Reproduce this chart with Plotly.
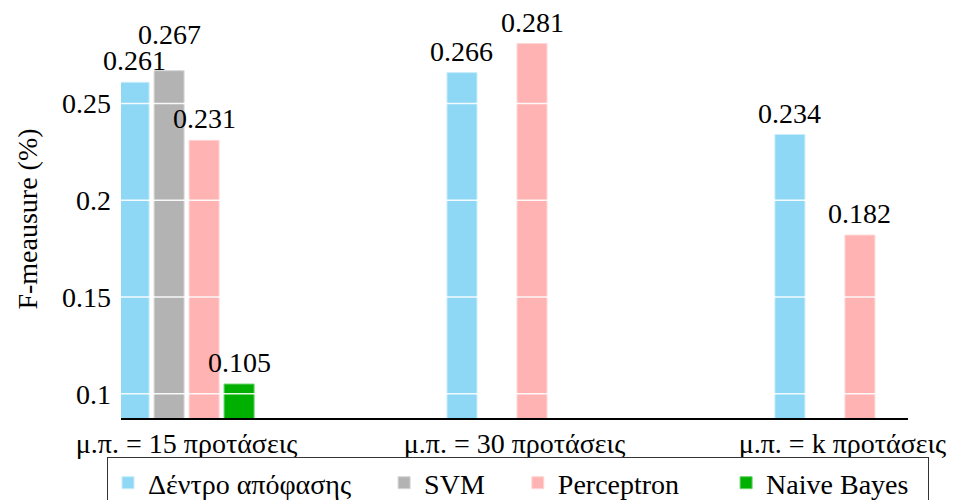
import plotly.graph_objects as go

categories = ["μ.π. = 15 προτάσεις", "μ.π. = 30 προτάσεις", "μ.π. = k προτάσεις"]
series_names = ["Δέντρο απόφασης", "SVM", "Perceptron", "Naive Bayes"]
tree_vals = [0.261, 0.266, 0.234]
svm_vals = [0.267, None, None]
perceptron_vals = [0.231, 0.281, 0.182]
nb_vals = [0.105, None, None]
y_ticks = [0.1, 0.15, 0.2, 0.25]
y_tick_text = ["0.1", "0.15", "0.2", "0.25"]

colors = ["#8fd8f5", "#b3b3b3", "#ffb3b3", "#00b000"]
edge_colors = ["#c9ecfa", "#d6d6d6", "#ffd6d6", "#66d066"]
all_vals = [tree_vals, svm_vals, perceptron_vals, nb_vals]
legend_pad = [4, 4, 6, 2]
label_lift = [[7, 7, 7], [22, 7, 7], [7, 7, 7], [7, 7, 7]]

FONT = "Liberation Serif"

# page body has an 8px margin: compensate so the plot sits where intended
W, H = 947, 492
ML, MR, MT, MB = 113, 47, 12, 82
X_RANGE = [-0.2, 2.2]
BARGAP, BARGROUPGAP = 0.573, 0.143
plot_w = W - ML - MR
cat_px = plot_w / (X_RANGE[1] - X_RANGE[0])
slot_px = cat_px * (1 - BARGAP) / len(series_names)

fig = go.Figure()
for i, (name, vals, c, ec, pad) in enumerate(zip(series_names, all_vals, colors, edge_colors, legend_pad)):
    fig.add_trace(go.Bar(
        x=categories, y=vals, name=name + "\u00a0" * pad,
        marker=dict(color=c, line=dict(color=ec, width=1)),
        cliponaxis=False,
    ))
    for j, v in enumerate(vals):
        if v is None:
            continue
        fig.add_annotation(
            x=categories[j], y=v, text="%.3f" % v, showarrow=False,
            xanchor="center", yanchor="bottom",
            xshift=(i - (len(series_names) - 1) / 2) * slot_px,
            yshift=label_lift[i][j] - 3,
            font=dict(family=FONT, size=28, color="black"),
        )

for t in y_ticks:
    fig.add_shape(type="line", xref="paper", x0=0, x1=1, yref="y", y0=t, y1=t,
                  layer="above", line=dict(color="rgba(255,255,255,0.9)", width=1.5))

fig.update_layout(
    width=W, height=H,
    margin=dict(l=ML, r=MR, t=MT, b=MB, autoexpand=False),
    plot_bgcolor="white", paper_bgcolor="white",
    barmode="group", bargap=BARGAP, bargroupgap=BARGROUPGAP,
    font=dict(family=FONT, size=28, color="black"),
    showlegend=True,
    legend=dict(orientation="h", x=-0.0178, xanchor="left", y=-0.098, yanchor="top",
                bordercolor="#333333", borderwidth=1, bgcolor="white",
                font=dict(family=FONT, size=28), itemwidth=30,
                tracegroupgap=0),
)
fig.update_xaxes(range=X_RANGE, showline=True, linecolor="black", linewidth=1.5,
                 ticks="", showgrid=False, automargin=False,
                 tickfont=dict(family=FONT, size=28))
fig.update_yaxes(range=[0.08745, 0.2932], tickvals=y_ticks, ticktext=y_tick_text,
                 showgrid=False, zeroline=False, showline=False, ticks="",
                 automargin=False, ticklabelstandoff=9,
                 tickfont=dict(family=FONT, size=28),
                 title=dict(text="F-meausure (%)", font=dict(family=FONT, size=28), standoff=16))

fig.write_html("out.html")
